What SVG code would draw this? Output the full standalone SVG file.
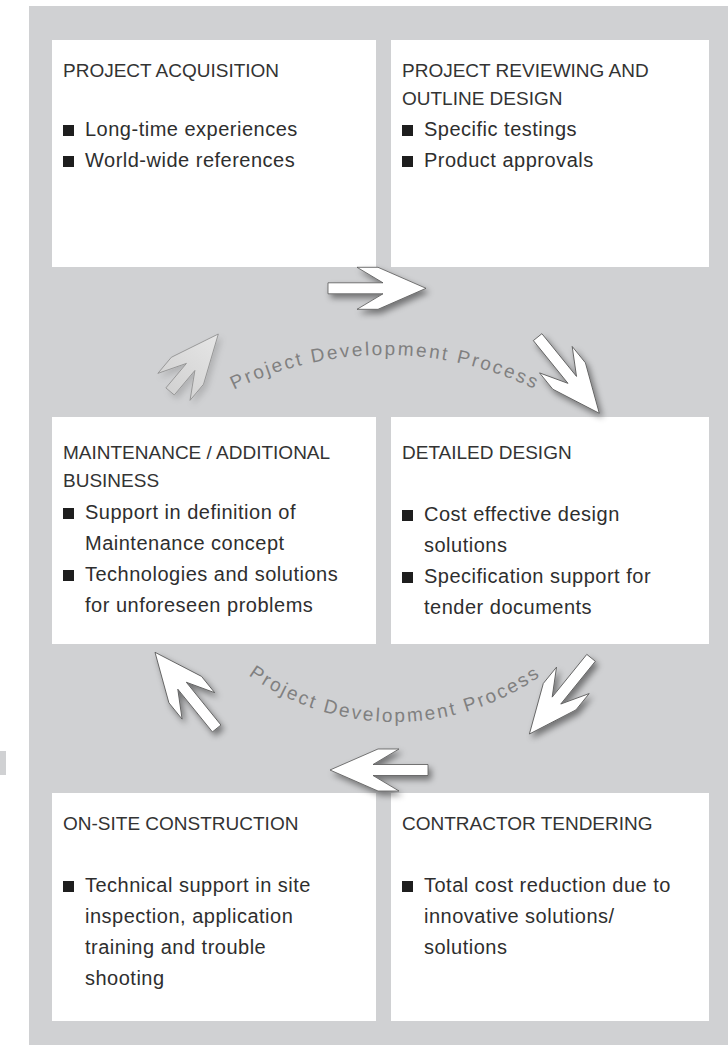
<svg xmlns="http://www.w3.org/2000/svg" xmlns:xlink="http://www.w3.org/1999/xlink" width="728" height="1045" viewBox="0 0 728 1045">
<style>
.box{fill:#ffffff}
.t{font-family:"Liberation Sans",Arial,sans-serif;font-size:19px;fill:#333333}
.b{font-family:"Liberation Sans",Arial,sans-serif;font-size:20px;fill:#2e2e2e;letter-spacing:0.5px}
.sq{fill:#1e1e1e}
.arc{font-family:"Liberation Sans",Arial,sans-serif;font-size:19px;fill:#808080;letter-spacing:2.3px}
.ar{fill:#ffffff;stroke:#555555;stroke-width:0.8;stroke-linejoin:miter}
.arf{fill:url(#fade);stroke:#8f8f8f;stroke-width:0.8}
</style>
<defs>
<filter id="sh" x="-30%" y="-30%" width="160%" height="160%">
<feDropShadow dx="3" dy="4" stdDeviation="3" flood-color="#000000" flood-opacity="0.45"/>
</filter>
<filter id="shl" x="-30%" y="-30%" width="160%" height="160%">
<feDropShadow dx="3" dy="4" stdDeviation="3" flood-color="#000000" flood-opacity="0.15"/>
</filter>
<linearGradient id="fade" x1="0" y1="0" x2="-75" y2="0" gradientUnits="userSpaceOnUse">
<stop offset="0" stop-color="#e6e6e6"/>
<stop offset="1" stop-color="#d2d2d2"/>
</linearGradient>
<polygon id="arr" points="0,0 -48,-21 -69,-21 -43,-5.5 -98,-5.5 -98,5.5 -43,5.5 -69,21 -48,21"/>
<path id="arcTop" d="M163.2,435.7 A345,345 0 0 1 606.8,435.7"/>
<path id="arcBot" d="M216.1,647.9 A253,253 0 0 0 573.9,647.9"/>
</defs>

<rect x="29" y="6" width="699" height="1039" fill="#d0d1d3"/>
<rect x="0" y="751" width="6" height="24" fill="#d0d1d3"/>

<g id="n1">
<rect class="box" x="52" y="40" width="324" height="227"/>
<text class="t" x="63" y="77">PROJECT ACQUISITION</text>
<rect class="sq" x="63" y="125" width="11" height="11"/>
<text class="b" x="85" y="136">Long-time experiences</text>
<rect class="sq" x="63" y="156" width="11" height="11"/>
<text class="b" x="85" y="167">World-wide references</text>
</g>

<g id="n2">
<rect class="box" x="391" y="40" width="318" height="227"/>
<text class="t" x="402" y="77">PROJECT REVIEWING AND</text>
<text class="t" x="402" y="105">OUTLINE DESIGN</text>
<rect class="sq" x="402" y="125" width="11" height="11"/>
<text class="b" x="424" y="136">Specific testings</text>
<rect class="sq" x="402" y="156" width="11" height="11"/>
<text class="b" x="424" y="167">Product approvals</text>
</g>

<g id="n3">
<rect class="box" x="52" y="417" width="324" height="227"/>
<text class="t" x="63" y="459">MAINTENANCE / ADDITIONAL</text>
<text class="t" x="63" y="487">BUSINESS</text>
<rect class="sq" x="63" y="508" width="11" height="11"/>
<text class="b" x="85" y="519">Support in definition of</text>
<text class="b" x="85" y="550">Maintenance concept</text>
<rect class="sq" x="63" y="570" width="11" height="11"/>
<text class="b" x="85" y="581">Technologies and solutions</text>
<text class="b" x="85" y="612">for unforeseen problems</text>
</g>

<g id="n4">
<rect class="box" x="391" y="417" width="318" height="227"/>
<text class="t" x="402" y="459">DETAILED DESIGN</text>
<rect class="sq" x="402" y="510" width="11" height="11"/>
<text class="b" x="424" y="521">Cost effective design</text>
<text class="b" x="424" y="552">solutions</text>
<rect class="sq" x="402" y="572" width="11" height="11"/>
<text class="b" x="424" y="583">Specification support for</text>
<text class="b" x="424" y="614">tender documents</text>
</g>

<g id="n5">
<rect class="box" x="52" y="793" width="324" height="228"/>
<text class="t" x="63" y="830">ON-SITE CONSTRUCTION</text>
<rect class="sq" x="63" y="881" width="11" height="11"/>
<text class="b" x="85" y="892">Technical support in site</text>
<text class="b" x="85" y="923">inspection, application</text>
<text class="b" x="85" y="954">training and trouble</text>
<text class="b" x="85" y="985">shooting</text>
</g>

<g id="n6">
<rect class="box" x="391" y="793" width="318" height="228"/>
<text class="t" x="402" y="830">CONTRACTOR TENDERING</text>
<rect class="sq" x="402" y="881" width="11" height="11"/>
<text class="b" x="424" y="892">Total cost reduction due to</text>
<text class="b" x="424" y="923">innovative solutions/</text>
<text class="b" x="424" y="954">solutions</text>
</g>

<g id="labels">
<text class="arc"><textPath xlink:href="#arcTop" href="#arcTop" startOffset="50%" text-anchor="middle">Project Development Process</textPath></text>
<text class="arc"><textPath xlink:href="#arcBot" href="#arcBot" startOffset="50%" text-anchor="middle">Project Development Process</textPath></text>
</g>

<g id="connectors">
<g filter="url(#shl)"><polygon class="arf" transform="translate(218.3,334) rotate(-50)" points="0,0 -48,-21 -69,-21 -43,-5.5 -75,-5.5 -75,5.5 -43,5.5 -69,21 -48,21"/></g>
<g filter="url(#sh)"><use class="ar" href="#arr" xlink:href="#arr" transform="translate(426,288.3)"/></g>
<g filter="url(#sh)"><use class="ar" href="#arr" xlink:href="#arr" transform="translate(599.3,413.3) rotate(51)"/></g>
<g filter="url(#sh)"><use class="ar" href="#arr" xlink:href="#arr" transform="translate(529.4,734) rotate(129)"/></g>
<g filter="url(#sh)"><use class="ar" href="#arr" xlink:href="#arr" transform="translate(330,770) rotate(180)"/></g>
<g filter="url(#sh)"><use class="ar" href="#arr" xlink:href="#arr" transform="translate(155,652.3) rotate(-129)"/></g>
</g>
</svg>
